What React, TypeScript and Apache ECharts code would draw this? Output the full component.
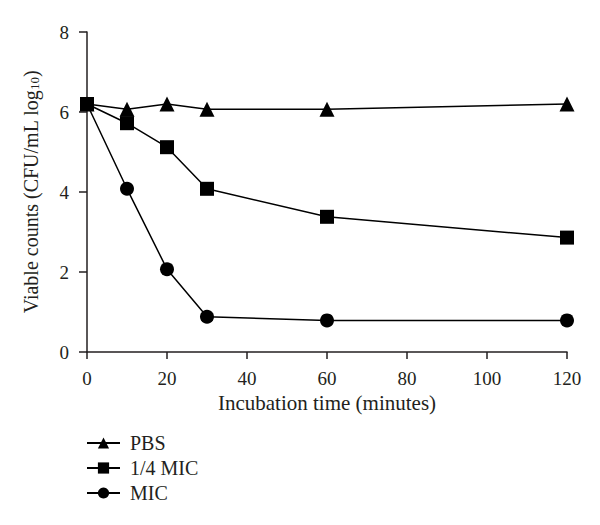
import React, { useEffect, useRef } from "react";
import * as echarts from "echarts";

const times = [0, 10, 20, 30, 60, 120];
const pbs = [6.2, 6.07, 6.2, 6.07, 6.07, 6.2];
const quarterMic = [6.2, 5.72, 5.12, 4.08, 3.38, 2.86];
const mic = [6.2, 4.08, 2.07, 0.88, 0.79, 0.79];
const seriesNames = ["PBS", "1/4 MIC", "MIC"];
const symbols = ["triangle", "rect", "circle"];

const FONT = "Liberation Serif";
const INK = "#231f20";

export default function App() {
  const ref = useRef<HTMLDivElement>(null);
  useEffect(() => {
    document.body.style.margin = "0";
    const chart = echarts.init(ref.current!, null, { renderer: "svg" });
    const data = [pbs, quarterMic, mic];
    const sizes = [15, 14, 14];
    chart.setOption({
      animation: false,
      backgroundColor: "#fff",
      textStyle: { fontFamily: FONT, color: INK },
      grid: { left: 87, right: 33, top: 32, bottom: 173 },
      legend: {
        orient: "vertical",
        left: 81,
        top: 428,
        itemWidth: 33,
        itemHeight: 14,
        itemGap: 5,
        data: seriesNames,
        textStyle: { fontFamily: FONT, fontSize: 20, color: INK, padding: [0, 0, 0, 5] },
      },
      xAxis: {
        type: "value",
        min: 0,
        max: 120,
        interval: 20,
        name: "Incubation time (minutes)",
        nameLocation: "middle",
        nameGap: 37,
        nameTextStyle: { fontFamily: FONT, fontSize: 21, color: INK },
        axisLine: { lineStyle: { color: INK, width: 1.5 } },
        axisTick: { length: 7, lineStyle: { color: INK, width: 1.5 } },
        axisLabel: { fontFamily: FONT, fontSize: 19, color: INK, margin: 17 },
        splitLine: { show: false },
      },
      yAxis: {
        type: "value",
        min: 0,
        max: 8,
        interval: 2,
        name: "Viable counts (CFU/mL log{sub|10})",
        nameLocation: "middle",
        nameGap: 46,
        nameTextStyle: {
          fontFamily: FONT,
          fontSize: 20,
          color: INK,
          rich: { sub: { fontFamily: FONT, fontSize: 13, color: INK, verticalAlign: "bottom", padding: [8, 0, 0, 0] } },
        },
        axisLine: { lineStyle: { color: INK, width: 1.5 } },
        axisTick: { length: 8, lineStyle: { color: INK, width: 1.5 } },
        axisLabel: { fontFamily: FONT, fontSize: 19, color: INK, margin: 18 },
        splitLine: { show: false },
      },
      series: seriesNames.map((name, i) => ({
        name,
        type: "line",
        data: times.map((t, j) => [t, data[i][j]]),
        symbol: symbols[i],
        symbolSize: sizes[i],
        lineStyle: { color: "#000", width: 1.5 },
        itemStyle: { color: "#000" },
        z: 3 - i,
      })),
    });
    return () => chart.dispose();
  }, []);
  return <div ref={ref} style={{ width: 600, height: 525 }} />;
}
